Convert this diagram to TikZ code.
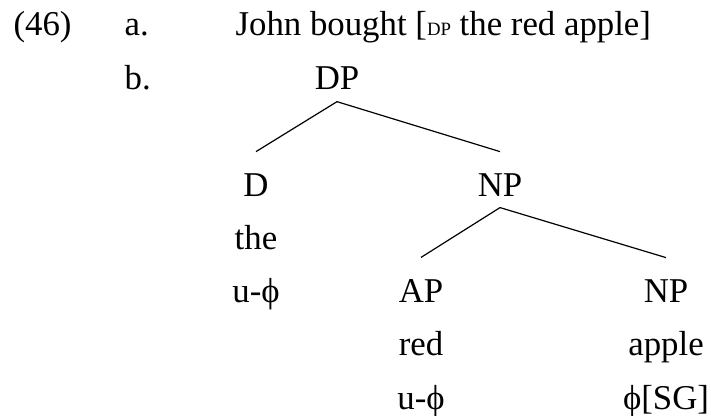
\documentclass[tikz,border=0pt]{standalone}
\usepackage{fontspec}
\setmainfont{Liberation Serif}
\usetikzlibrary{positioning}
\tikzset{every picture/.style={line width=0.6pt}}
\tikzset{
  lbl/.style={anchor=base, inner sep=0pt, font=\fontsize{17.4}{21}\selectfont},
  lblw/.style={lbl, anchor=base west},
  branch/.style={line width=0.6pt},
}
\newcommand{\catsc}[1]{{\fontsize{9.4}{10}\selectfont #1}}

\begin{document}
\begin{tikzpicture}[x=0.5pt,y=-0.5pt]
    \useasboundingbox (0,0) rectangle (711,416);

    % Example number and items
    \node[lblw] (exno) at (13,36) {(46)};
    \node[lblw] (itema) at (124,36) {a.};
    \node[lblw] (sent) at (235,36) {John bought [\catsc{DP} the red apple]};
    \node[lblw] (itemb) at (124,90) {b.};

    % Tree: root
    \node[lbl] (dp) at (337,90) {DP};

    % D with its word and feature
    \node[lbl] (d) at (256,197) {D};
    \node[lbl] (dword) at (256,250) {the};
    \node[lbl] (dfeat) at (256,303) {u-ϕ};

    % NP and its daughters
    \node[lbl] (np) at (500,197) {NP};
    \node[lbl] (ap) at (421,303) {AP};
    \node[lbl] (apword) at (421,356) {red};
    \node[lbl] (apfeat) at (421,409) {u-ϕ};
    \node[lbl] (nplow) at (666,303) {NP};
    \node[lbl] (npword) at (666,356) {apple};
    \node[lbl] (npfeat) at (666,409) {ϕ[SG]};

    % Branches
    \draw[branch] ([yshift=-5.5pt]dp.south) -- ([yshift=11pt]d.north);
    \draw[branch] ([yshift=-5.5pt]dp.south) -- ([yshift=11pt]np.north);
    \draw[branch] ([yshift=-5pt]np.south) -- ([yshift=11pt]ap.north);
    \draw[branch] ([yshift=-5pt]np.south) -- ([yshift=11pt]nplow.north);
\end{tikzpicture}
\end{document}
